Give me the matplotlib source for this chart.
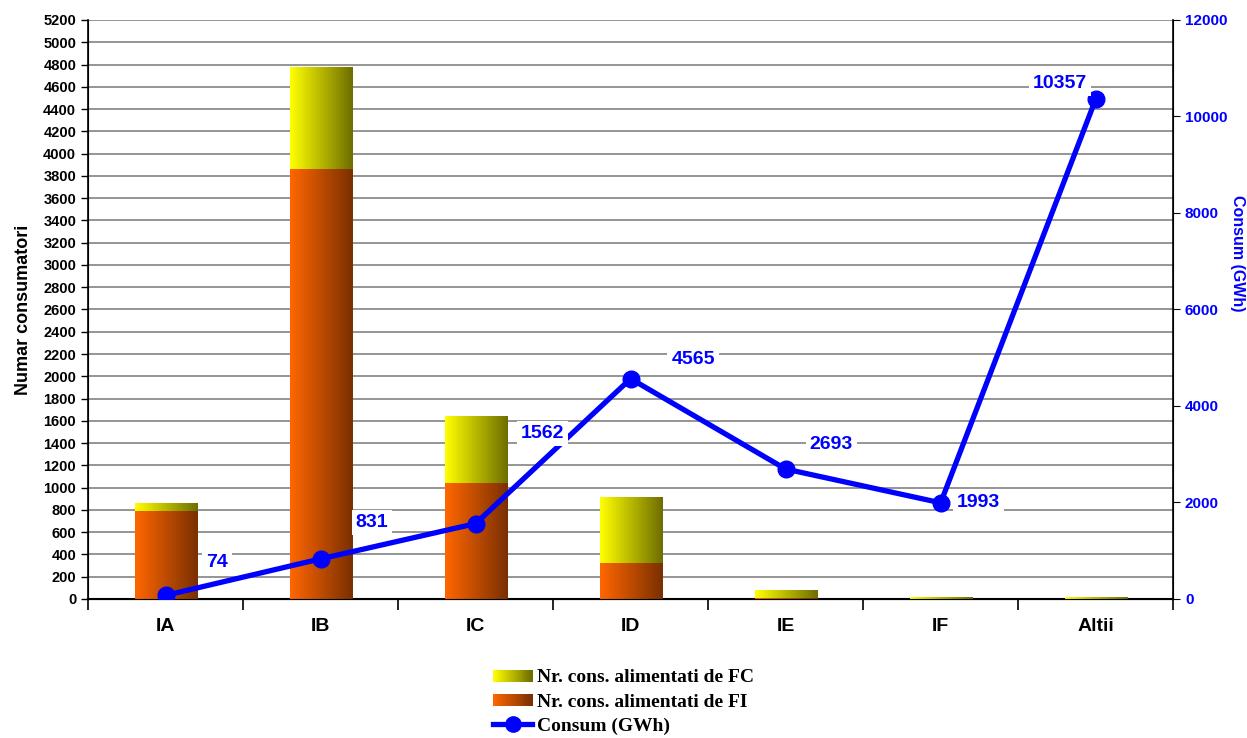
import numpy as np
import matplotlib.pyplot as plt
from matplotlib.patches import Rectangle
from matplotlib.lines import Line2D
from matplotlib.legend_handler import HandlerBase
from matplotlib.colors import to_rgb

categories = ['IA', 'IB', 'IC', 'ID', 'IE', 'IF', 'Altii']
cons_fi = [790, 3860, 1040, 325, 10, 2, 2]      # Nr. cons. alimentati de FI
cons_fc = [70, 910, 600, 590, 70, 16, 16]       # Nr. cons. alimentati de FC
consum = [74, 831, 1562, 4565, 2693, 1993, 10357]  # Consum (GWh)

# label offsets in points (dx, dy) for the consumption labels
label_offsets = [(37, 24), (37, 26), (48, 65), (45, 14), (33, 18), (27, 0), (-26, 11)]

orange = ('#FF6600', '#7A3000')
yellow = ('#FFFF00', '#6E6E00')
blue = '#0000FF'

plt.rcParams['font.family'] = ['Liberation Sans', 'DejaVu Sans']
plt.rcParams['font.weight'] = 'bold'

fig = plt.figure(figsize=(12.47, 7.38), dpi=100)
ax = fig.add_axes([0.0706, 0.1884, 0.8702, 0.7845])
ax2 = ax.twinx()


def grad_img(c0, c1, n=64):
    a = np.array(to_rgb(c0))
    b = np.array(to_rgb(c1))
    t = np.linspace(0, 1, n)[:, None]
    return (a + (b - a) * t)[None, :, :]


def grad_bar(axis, x, w, y0, h, cols):
    if h <= 0:
        return
    axis.imshow(grad_img(*cols), extent=[x - w / 2, x + w / 2, y0, y0 + h],
                aspect='auto', interpolation='bilinear', zorder=3)


x = np.arange(len(categories))
w = 0.4
for i in x:
    grad_bar(ax, i, w, 0, cons_fi[i], orange)
    grad_bar(ax, i, w, cons_fi[i], cons_fc[i], yellow)

ax.set_xlim(-0.5, len(categories) - 0.5)
ax.set_ylim(0, 5200)
ax.set_yticks(np.arange(0, 5201, 200))
ax.yaxis.grid(True, color='#8c8c8c', linewidth=1.3, zorder=0)
ax.set_axisbelow(True)
ax.set_xticks(x)
ax.set_xticklabels(categories, fontsize=14, fontweight='bold')
ax.tick_params(axis='x', length=0, pad=14)
ax.set_xticks(np.arange(-0.5, len(categories), 1), minor=True)
ax.tick_params(axis='x', which='minor', length=8, width=1.2, direction='out')
ax.tick_params(axis='y', labelsize=10.5, length=5, width=1, direction='out')
for t in ax.get_yticklabels():
    t.set_fontweight('bold')
ax.set_ylabel('Numar consumatori', fontsize=13, fontweight='bold', labelpad=8)
ax.spines['top'].set_visible(False)
ax.spines['left'].set_linewidth(1.2)
ax.spines['bottom'].set_linewidth(1.5)

ax2.plot(x, consum, color=blue, linewidth=3.8, marker='o', markersize=12, zorder=4)
ax2.set_ylim(0, 12000)
ax2.set_yticks(np.arange(0, 12001, 2000))
ax2.tick_params(axis='y', labelsize=11, labelcolor=blue, length=5, direction='out')
for t in ax2.get_yticklabels():
    t.set_fontweight('bold')
ax2.set_ylabel('Consum (GWh)', fontsize=11.5, fontweight='bold', color=blue,
               rotation=-90, va='center', ha='center')
ax2.yaxis.set_label_coords(1.059, 0.597)
ax2.spines['top'].set_visible(False)
ax2.spines['right'].set_linewidth(1.2)
for i, v in enumerate(consum):
    dx, dy = label_offsets[i]
    ax2.annotate(str(v), (x[i], v), xytext=(dx, dy), textcoords='offset points',
                 ha='center', va='center', fontsize=14, fontweight='bold', color=blue,
                 bbox=dict(boxstyle='square,pad=0.2', fc='white', ec='none'), zorder=6)


class GradHandler(HandlerBase):
    def __init__(self, cols, n=40):
        super().__init__()
        self.cols = cols
        self.n = n

    def create_artists(self, legend, orig_handle, xdescent, ydescent, width, height,
                       fontsize, trans):
        a = np.array(to_rgb(self.cols[0]))
        b = np.array(to_rgb(self.cols[1]))
        arts = []
        for k in range(self.n):
            c = a + (b - a) * k / (self.n - 1)
            r = Rectangle((-xdescent + width * k / self.n, -ydescent + height * 0.05),
                          width / self.n * 1.05, height * 0.85, fc=c, ec='none',
                          transform=trans)
            arts.append(r)
        return arts


h_fc = Rectangle((0, 0), 1, 1)
h_fi = Rectangle((0, 0), 1, 1)
h_line = Line2D([], [], color=blue, linewidth=3.8, marker='o', markersize=11)
fig.legend([h_fc, h_fi, h_line],
           ['Nr. cons. alimentati de FC', 'Nr. cons. alimentati de FI', 'Consum (GWh)'],
           handler_map={h_fc: GradHandler(yellow), h_fi: GradHandler(orange)},
           loc='center left', bbox_to_anchor=(0.381, 0.049), frameon=False,
           prop={'family': 'Liberation Serif', 'weight': 'bold', 'size': 14},
           handlelength=2.05, labelspacing=0.34, handletextpad=0.25)

fig.savefig('out.png', dpi=100)
